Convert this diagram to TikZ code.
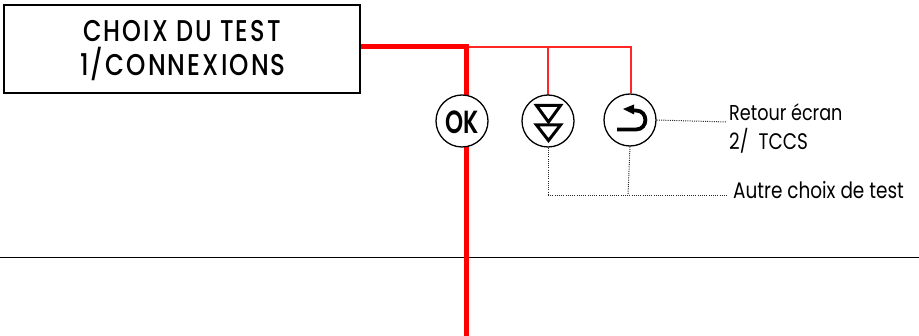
\documentclass[tikz,border=0pt]{standalone}
\usepackage{fontspec}
\setmainfont[FakeStretch=0.82]{Poppins}
\newfontfamily\boxf[FakeStretch=0.8,LetterSpace=7]{Poppins Medium}
\newfontfamily\boxg[FakeStretch=0.82,LetterSpace=7]{Poppins Medium}
\newfontfamily\okf[FakeStretch=0.72]{Poppins SemiBold}
\begin{document}
\begin{tikzpicture}[x=1pt,y=-1pt,
  btn/.style={circle,draw=black,line width=1.3pt,fill=white,minimum size=52pt,inner sep=0pt},
  thick red/.style={draw=red,line width=5pt},
  thin red/.style={draw=red!85!white,line width=1.1pt},
  dot/.style={draw=black!85,line width=1pt,dash pattern=on 1pt off 1.2pt},
  lab/.style={anchor=west,inner sep=0pt,font=\fontsize{21.5}{21.5}\selectfont,text=black},
  boxlab/.style={inner sep=0pt,font=\boxf\fontsize{30}{30}\selectfont}]
\useasboundingbox (0,0) rectangle (919,336);
\coordinate (top) at (466,47);
\coordinate (bot) at (466,336);
\coordinate (j2) at (548,47);
\coordinate (j3) at (631,47);
\coordinate (j4) at (628,195);
\coordinate (c2) at (548,196);
\coordinate (e1) at (727,122);
\coordinate (e2) at (727,196);
\coordinate (la) at (0,257);
\coordinate (lb) at (919,257);
\draw[black,line width=0.9pt] (la) -- (lb);
\node[draw=black,line width=2.6pt,fill=white,minimum width=356pt,minimum height=88pt,inner sep=0pt] (box) at (182,49) {};
\node[boxlab] (t1) at (182,31) {CHOIX DU TEST};
\node[boxlab,font=\boxg\fontsize{30}{30}\selectfont] (t2) at (183,64) {1/CONNEXIONS};
\draw[thin red] (top) -- (j3) -- (631,93);
\draw[thin red] (j2) -- (548,95);
\draw[thick red] (box.east |- top) -| (bot);
\node[btn] (ok) at (462,121) {};
\node[inner sep=0pt,font=\okf\fontsize{32}{32}\selectfont] (oktxt) at (462,122) {OK};
\node[btn] (down) at (548,121) {};
\node[btn] (back) at (630,120) {};
\draw[black,line width=3pt,line join=miter] (536.5,105.5) -- (560.5,105.5) -- (548.5,122) -- cycle;
\draw[black,line width=3pt,line join=miter] (536.5,125) -- (560.5,125) -- (548.5,140.5) -- cycle;
\draw[black,line width=3.8pt] (617,129.5) -- (636,129.5) .. controls (648.5,129.5) and (648.5,110.5) .. (636,110.5) -- (631,110.5);
\fill[black] (623,109) -- (634,104.5) -- (634,114.5) -- cycle;
\draw[dot] (back.east) -- (e1);
\draw[dot] (back.south) -- (j4);
\draw[dot] (down.south) -- (c2) -- (e2);
\node[lab] (l1) at (729,112) {Retour écran};
\node[lab,font=\fontsize{22.5}{22.5}\selectfont] (l2) at (729,141) {2/\hspace{0.45em}TCCS};
\node[lab,font=\fontsize{22.5}{22.5}\selectfont] (l3) at (733,190) {Autre choix de test};
\end{tikzpicture}
\end{document}
